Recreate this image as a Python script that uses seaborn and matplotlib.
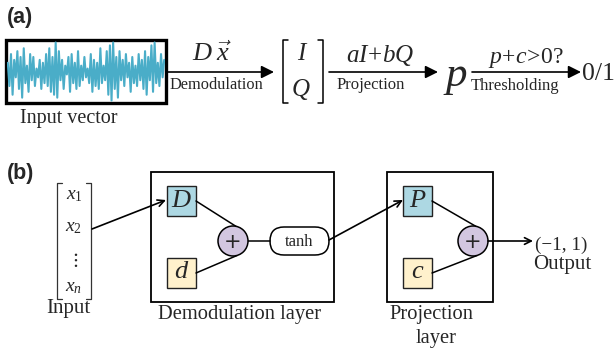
import matplotlib
matplotlib.use("Agg")
import matplotlib.pyplot as plt
from matplotlib.patches import Rectangle, Circle, FancyBboxPatch
import seaborn as sns
import pandas as pd

sns.set_theme(style="white")
plt.rcParams["font.family"] = ["Liberation Serif", "DejaVu Serif"]
plt.rcParams["mathtext.fontset"] = "custom"
plt.rcParams["mathtext.rm"] = "Liberation Serif"
plt.rcParams["mathtext.it"] = "Liberation Serif:italic"
plt.rcParams["mathtext.bf"] = "Liberation Serif:bold"

# sampled input waveform (normalised amplitude)
signal = [0.3, -0.5, 0.6, -0.8, 0.4, -0.2, 0.7, -0.6, 0.5, -0.9, 0.8, -0.4, 0.2, -0.7,
          0.6, -0.3, 0.5, -0.5, 0.1, -0.2, 0.4, -0.6, 0.3, -0.4, 0.6, -0.5, 0.8, -0.7,
          0.5, -0.8, 1.0, -0.9, 0.7, -0.3, 0.4, -0.6, 0.2, -0.1, 0.5, -0.7, 0.6, -0.4,
          0.3, -0.6, 0.7, -0.5, 0.2, -0.3, 0.5, -0.2, 0.1, -0.4, 0.6, -0.7, 0.4, -0.5,
          0.3, -0.6, 0.8, -0.4, 0.2, -0.3, 0.7, -0.8, 0.9, -1.0, 1.0, -0.6, 0.5, -0.9,
          0.7, -0.3, 0.4, -0.5, 0.6, -0.2, 0.3, -0.7, 0.5, -0.4, 0.2, -0.5, 0.6, -0.3,
          0.4, -0.6, 0.7, -0.8, 0.5, -0.3, 0.9, -0.7, 1.0, -0.4, 0.3, -0.5, 0.6, -0.2, 0.4]

# pipeline labels
stage_above = [r"$D\;\vec{x}$", r"$aI\!+\!bQ$", r"$p\!+\!c\!>\!0?$"]
stage_below = ["Demodulation", "Projection", "Thresholding"]
input_items = [r"$x_1$", r"$x_2$", r"$\vdots$", r"$x_n$"]

BLUE = "#ADD8E3"
YELLOW = "#FFF1CC"
LAVENDER = "#D2C6E0"
WAVE = "#4AADC8"

W, H = 616, 356
fig = plt.figure(figsize=(W / 100, H / 100), dpi=100)
ax = fig.add_axes([0, 0, 1, 1])
ax.set_xlim(0, W)
ax.set_ylim(H, 0)
ax.axis("off")

# ---------------- (a) ----------------
ax.text(7, 18, "(a)", family="Liberation Sans", weight="bold", fontsize=15.5,
        ha="left", va="center")

# waveform panel
wax = fig.add_axes([7 / W, 1 - 102 / H, 158 / W, 61 / H])
wax.set_xlim(-0.5, len(signal) - 0.5)
wax.set_ylim(-1.05, 1.05)
wax.axis("off")
df = pd.DataFrame({"n": range(len(signal)), "v": signal})
sns.lineplot(data=df, x="n", y="v", ax=wax, color=WAVE, lw=1.5)
ax.add_patch(Rectangle((5.5, 40), 160.5, 63, fill=False, ec="black", lw=2.4, zorder=5))
ax.text(69, 118, "Input vector", fontsize=14.5, ha="center", va="center")


def arrow(x0, y0, x1, y1, style="-|>", ms=14, lw=1.2):
    ax.annotate("", xy=(x1, y1), xytext=(x0, y0),
                arrowprops=dict(arrowstyle=style, color="black", lw=lw,
                                mutation_scale=ms, shrinkA=0, shrinkB=0))


arrow(166, 72, 274, 72, ms=19)
ax.text(212, 54, stage_above[0], fontsize=19, ha="center", va="center")
ax.text(216, 85, stage_below[0], fontsize=11.8, ha="center", va="center")

# [I; Q] column vector
for xb, dx in [(283, 5), (323, -5)]:
    ax.plot([xb + dx, xb, xb, xb + dx], [39.5, 39.5, 103, 103], color="black", lw=1.1)
ax.text(303, 54, r"$I$", fontsize=18, ha="center", va="center")
ax.text(301, 90, r"$Q$", fontsize=18, ha="center", va="center")

arrow(329, 72, 438, 72, ms=19)
ax.text(380, 56, stage_above[1], fontsize=18, ha="center", va="center")
ax.text(371, 85, stage_below[1], fontsize=12, ha="center", va="center")

ax.text(455, 78, r"$p$", fontsize=31, ha="center", va="center")

arrow(472, 72, 581, 72, ms=19)
ax.text(526, 58, stage_above[2], fontsize=17, ha="center", va="center")
ax.text(515, 86, stage_below[2], fontsize=12, ha="center", va="center")
ax.text(582, 74, "0/1", fontsize=18.5, ha="left", va="center")

# ---------------- (b) ----------------
ax.text(7, 173, "(b)", family="Liberation Sans", weight="bold", fontsize=15.5,
        ha="left", va="center")

# input column vector
for xb, dx in [(57, 5), (91, -5)]:
    ax.plot([xb + dx, xb, xb, xb + dx], [183, 183, 299, 299], color="#333333", lw=0.9)
for lab, yy in zip(input_items, [196, 228, 260, 287]):
    ax.text(74, yy, lab, fontsize=14, ha="center", va="center")
ax.text(68, 309, "Input", fontsize=15, ha="center", va="center")

arrow(92, 229, 166, 200, style="->", ms=12, lw=1.2)


def layer(x0, x1, wname, bname, cx):
    ax.add_patch(Rectangle((x0, 172), x1 - x0, 130, fill=False, ec="black", lw=1.3))
    bx = x0 + 15.5
    ax.add_patch(Rectangle((bx, 186), 29.5, 30, fc=BLUE, ec="#222222", lw=1.0))
    ax.add_patch(Rectangle((bx, 258), 29.5, 30, fc=YELLOW, ec="#222222", lw=1.0))
    ax.text(bx + 15, 201, wname, fontsize=19, ha="center", va="center")
    ax.text(bx + 15, 272, bname, fontsize=19, ha="center", va="center")
    ax.plot([bx + 29.5, cx + 4], [201, 227], color="black", lw=1.1)
    ax.plot([bx + 29.5, cx + 4], [273, 255.5], color="black", lw=1.1)
    ax.add_patch(Circle((cx, 241), 15, fc=LAVENDER, ec="black", lw=1.1, zorder=3))
    ax.text(cx, 242, "+", family="DejaVu Sans", fontsize=15, ha="center",
            va="center", zorder=4)


layer(151, 334, r"$D$", r"$d$", 233)
ax.plot([248, 270], [241, 241], color="black", lw=1.1)
ax.add_patch(FancyBboxPatch((270, 227), 59, 28,
                            boxstyle="round,pad=0,rounding_size=14",
                            fc="white", ec="black", lw=1.1))
ax.text(299.5, 242, "tanh", fontsize=12, ha="center", va="center")
ax.text(240, 314, "Demodulation layer", fontsize=14.8, ha="center", va="center")

arrow(329, 240, 403, 200, style="->", ms=12, lw=1.2)

layer(387, 493, r"$P$", r"$c$", 473)
ax.text(431, 314, "Projection", fontsize=14.8, ha="center", va="center")
ax.text(436, 338, "layer", fontsize=14.8, ha="center", va="center")

arrow(488, 241, 533, 241, style="->", ms=12, lw=1.2)
ax.text(535, 245, "(−1, 1)", fontsize=13.8, ha="left", va="center")
ax.text(562, 264, "Output", fontsize=15, ha="center", va="center")

fig.savefig("out.png", dpi=100)
